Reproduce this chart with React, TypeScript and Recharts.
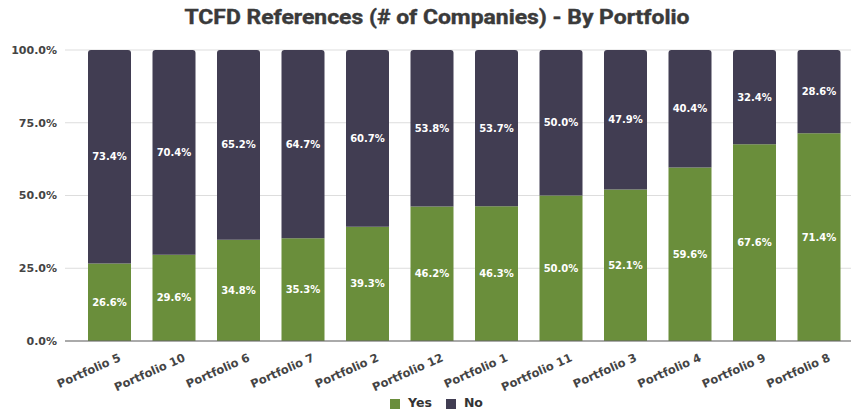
import React from 'react';
import { BarChart, Bar, XAxis, YAxis, CartesianGrid, Legend, LabelList } from 'recharts';

const portfolios = [
  'Portfolio 5', 'Portfolio 10', 'Portfolio 6', 'Portfolio 7', 'Portfolio 2', 'Portfolio 12',
  'Portfolio 1', 'Portfolio 11', 'Portfolio 3', 'Portfolio 4', 'Portfolio 9', 'Portfolio 8',
];
const yesPct = [26.6, 29.6, 34.8, 35.3, 39.3, 46.2, 46.3, 50.0, 52.1, 59.6, 67.6, 71.4];
const noPct = [73.4, 70.4, 65.2, 64.7, 60.7, 53.8, 53.7, 50.0, 47.9, 40.4, 32.4, 28.6];
const yTicks = [0, 25, 50, 75, 100];

const COLORS = {
  yes: '#6a8e3b',
  no: '#413d52',
  grid: '#dddddd',
  axis: '#666666',
  text: '#444444',
};

const FONT = '"DejaVu Sans", sans-serif';

const data = portfolios.map((name, i) => ({ name, yes: yesPct[i], no: noPct[i] }));

const pct = (v: number) => `${Number(v).toFixed(1)}%`;

export default function App() {
  return (
    <div style={{ position: 'absolute', left: 0, top: 0, width: 853, height: 418, background: '#fff' }}>
      <svg width={853} height={40} style={{ position: 'absolute', left: 0, top: 0 }}>
        <text
          x={437}
          y={24}
          textAnchor="middle"
          fontFamily="Roboto, sans-serif"
          fontWeight="bold"
          fontSize={19.5}
          fill="#3a3a3a"
          stroke="#3a3a3a"
          strokeWidth={0.4}
          textLength={505}
          lengthAdjust="spacingAndGlyphs"
        >
          TCFD References (# of Companies) - By Portfolio
        </text>
      </svg>
      <BarChart
        width={853}
        height={418}
        data={data}
        margin={{ top: 50, right: 2, bottom: 0, left: 0 }}
        barSize={43}
      >
        <CartesianGrid vertical={false} stroke={COLORS.grid} />
        <XAxis
          dataKey="name"
          interval={0}
          height={51}
          padding={{ left: 12, right: 0 }}
          angle={-24}
          textAnchor="end"
          dx={9}
          dy={4}
          tick={{ fill: COLORS.text, fontSize: 11.5, fontWeight: 'bold', fontFamily: FONT }}
          tickLine={false}
          axisLine={{ stroke: COLORS.axis }}
        />
        <YAxis
          width={65}
          domain={[0, 100]}
          ticks={yTicks}
          tickFormatter={pct}
          axisLine={false}
          tickLine={false}
          tick={{ fill: COLORS.text, fontSize: 11, fontWeight: 'bold', fontFamily: FONT }}
        />
        <Legend
          verticalAlign="bottom"
          height={26}
          iconType="square"
          iconSize={10}
          itemSorter={(item: any) => (item.value === 'Yes' ? 0 : 1)}
          wrapperStyle={{ paddingLeft: 18, bottom: -3, fontFamily: FONT, fontSize: 12.5, fontWeight: 'bold' }}
          formatter={(v: string) => <span style={{ color: '#333', marginLeft: 4, marginRight: 4 }}>{v}</span>}
        />
        <Bar dataKey="yes" name="Yes" stackId="a" fill={COLORS.yes} isAnimationActive={false}>
          <LabelList
            dataKey="yes"
            position="center"
            formatter={pct}
            fill="#fff"
            fontSize={10}
            fontWeight="bold"
            fontFamily={FONT}
          />
        </Bar>
        <Bar dataKey="no" name="No" stackId="a" fill={COLORS.no} radius={[3, 3, 0, 0]} isAnimationActive={false}>
          <LabelList
            dataKey="no"
            position="center"
            formatter={pct}
            fill="#fff"
            fontSize={10}
            fontWeight="bold"
            fontFamily={FONT}
          />
        </Bar>
      </BarChart>
    </div>
  );
}
